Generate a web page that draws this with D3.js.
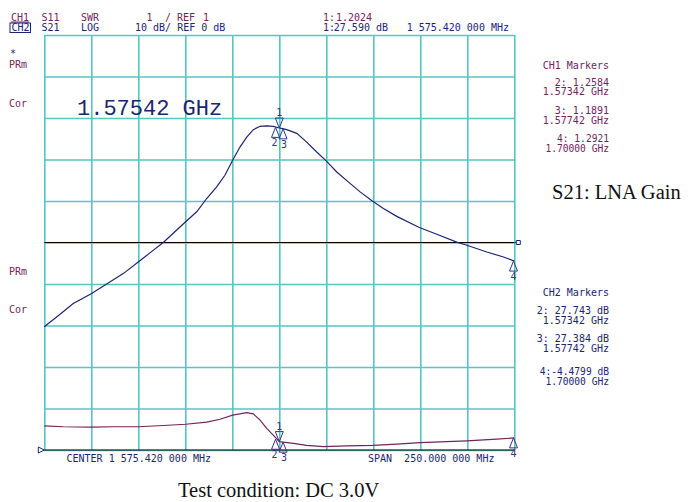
<!DOCTYPE html>
<html><head><meta charset="utf-8">
<script src="https://cdn.jsdelivr.net/npm/d3@7/dist/d3.min.js"></script>
<style>body{margin:0;background:#fff}svg{display:block}</style>
</head><body>
<svg id="c" width="688" height="502"></svg>
<script>
// ---- data ----
const s21Freq = [1450.4,1458.8,1465.8,1475.6,1483.6,1492.4,1500.4,1506.6,1513.7,1525.6,1531.5,1536.8,1542.1,1546.5,1550.6,1554.5,1558.1,1561.6,1565.2,1568.7,1572.2,1575.4,1579.4,1584.7,1590.0,1595.3,1600.1,1606.0,1612.1,1618.4,1624.9,1630.8,1637.9,1649.9,1659.2,1669.8,1675.2,1685.8,1694.7,1700.4];
const s21dB   = [-20.3,-17.3,-14.7,-12.3,-10.0,-7.5,-4.7,-2.5,0.0,5.0,7.4,10.6,13.4,16.2,19.8,23.0,25.4,27.2,28.0,28.1,28.0,27.6,27.2,26.3,24.2,21.8,19.8,17.0,14.6,12.2,10.0,8.2,6.3,3.6,2.0,0.1,-0.65,-2.3,-3.5,-4.48];
const s11Freq = [1450.4,1460.5,1475.6,1487.1,1500.4,1513.7,1525.6,1536.8,1543.9,1550.6,1558.1,1561.6,1565.2,1568.7,1572.2,1575.4,1582.9,1590.0,1598.8,1611.3,1625.1,1637.9,1650.3,1664.5,1675.2,1691.1,1700.4];
const s11SWR  = [1.58,1.56,1.55,1.56,1.56,1.59,1.62,1.67,1.74,1.84,1.90,1.87,1.72,1.52,1.36,1.20,1.16,1.11,1.08,1.10,1.11,1.14,1.18,1.20,1.22,1.26,1.29];
const markerNames = ["1","2","3","4"];
const markerFreq  = [1575.42,1573.42,1577.42,1700.00];
const markerS21   = [27.590,27.743,27.384,-4.4799];
const markerSWR   = [1.2024,1.2584,1.1891,1.2921];
const gridDivs = [0,1,2,3,4,5,6,7,8,9,10];
const ch1MarkerText = ["2: 1.2584","1.57342 GHz","3: 1.1891","1.57742 GHz","4: 1.2921","1.70000 GHz"];
const ch2MarkerText = ["2: 27.743 dB","1.57342 GHz","3: 27.384 dB","1.57742 GHz","4:-4.4799 dB","1.70000 GHz"];

const CH1 = "#74245c", CH2 = "#1c2670", GRID = "#55c6c2", MK2 = "#2a3a90", MK1 = "#3c3080";
const mono = "'DejaVu Sans Mono', monospace";

const svg = d3.select("#c");
const L = 44.3, R = 514.3, T = 35, B = 450;
const center = 1575.42, span = 250;
const x = d3.scaleLinear().domain([center - span/2, center + span/2]).range([L, R]);
const yDB = d3.scaleLinear().domain([-50, 50]).range([B, T]);
const ySWR = d3.scaleLinear().domain([1, 11]).range([B, T]);
const div = d3.scaleLinear().domain([0, 10]).range([L, R]);
const divY = d3.scaleLinear().domain([0, 10]).range([T, B]);

// grid via axes
svg.append("g").attr("transform", `translate(0,${B})`)
  .call(d3.axisBottom(div).tickValues(gridDivs).tickSize(-(B - T)).tickFormat(""))
  .call(g => { g.select(".domain").remove(); g.selectAll("line").attr("stroke", GRID).attr("stroke-width", 1.6); });
svg.append("g").attr("transform", `translate(${L},0)`)
  .call(d3.axisLeft(divY).tickValues(gridDivs).tickSize(-(R - L)).tickFormat(""))
  .call(g => { g.select(".domain").remove(); g.selectAll("line").attr("stroke", GRID).attr("stroke-width", 1.6); });

// reference lines
svg.append("line").attr("x1", L).attr("x2", R).attr("y1", yDB(0)).attr("y2", yDB(0)).attr("stroke", "#000").attr("stroke-width", 1.2);
svg.append("line").attr("x1", L).attr("x2", R).attr("y1", ySWR(1)).attr("y2", ySWR(1)).attr("stroke", "#000").attr("stroke-width", 1.2);
// ref indicators
svg.append("path").attr("d", `M${R},${yDB(0)} h2 v-2 h4 v4 h-4 v-2`).attr("fill", "none").attr("stroke", CH2).attr("stroke-width", 1);
svg.append("path").attr("d", `M${L-6},${ySWR(1)-3} L${L},${ySWR(1)} L${L-6},${ySWR(1)+3} Z`).attr("fill", "#fff").attr("stroke", CH2).attr("stroke-width", 1);

// traces
const lineS21 = d3.line().x((d, i) => x(s21Freq[i])).y(d => yDB(d));
const lineS11 = d3.line().x((d, i) => x(s11Freq[i])).y(d => ySWR(d));
svg.append("path").attr("d", lineS21(s21dB)).attr("fill", "none").attr("stroke", CH2).attr("stroke-width", 1.2);
svg.append("path").attr("d", lineS11(s11SWR)).attr("fill", "none").attr("stroke", CH1).attr("stroke-width", 1.2);

// markers
function drawMarkers(yScale, vals, color) {
  markerNames.forEach((n, i) => {
    const px = x(markerFreq[i]), py = yScale(vals[i]);
    const g = svg.append("g").attr("fill", "none").attr("stroke", color).attr("stroke-width", 1);
    if (n === "1") {
      g.append("path").attr("d", `M${px},${py} L${px-4},${py-10} L${px+4},${py-10} Z`);
      svg.append("text").attr("x", px).attr("y", py - 12).attr("text-anchor", "middle")
        .attr("font-family", mono).attr("font-size", 10).attr("fill", color).text(n);
    } else {
      g.append("path").attr("d", `M${px},${py} L${px-4},${py+10} L${px+4},${py+10} Z`);
      svg.append("text").attr("x", px + (n === "2" ? -1 : n === "3" ? 1 : 0)).attr("y", py + 19).attr("text-anchor", "middle")
        .attr("font-family", mono).attr("font-size", 10).attr("fill", color).text(n);
    }
  });
}
drawMarkers(yDB, markerS21, MK2);
drawMarkers(ySWR, markerSWR, MK1);

// header text
function t(xp, yp, s, color, opts = {}) {
  return svg.append("text").attr("x", xp).attr("y", yp).attr("font-family", opts.font || mono)
    .attr("font-size", opts.size || 10).attr("fill", color).attr("text-anchor", opts.anchor || "start")
    .attr("xml:space", "preserve").style("white-space", "pre").text(s);
}
t(11, 20.5, "CH1", CH1);
svg.append("line").attr("x1", 11).attr("x2", 29).attr("y1", 22).attr("y2", 22).attr("stroke", CH1).attr("stroke-width", 1);
t(41.5, 20.5, "S11", CH1);
t(81, 20.5, "SWR", CH1);
t(146.5, 20.5, "1", CH1);
t(165, 20.5, "/ REF", CH1);
t(203, 20.5, "1", CH1);
t(323, 20.5, "1:", CH1);
t(372, 20.5, "1.2024", CH1, {anchor: "end"});

t(11.5, 31, "CH2", CH2);
svg.append("rect").attr("x", 10).attr("y", 23).attr("width", 20.5).attr("height", 9.5).attr("fill", "none").attr("stroke", CH2).attr("stroke-width", 1);
t(41.5, 31, "S21", CH2);
t(81, 31, "LOG", CH2);
t(135, 31, "10 dB/ REF 0 dB", CH2);
t(323, 31, "1:", CH2);
t(388, 31, "27.590 dB", CH2, {anchor: "end"});
t(509, 31, "1 575.420 000 MHz", CH2, {anchor: "end"});

// left labels
t(10, 57, "*", CH2);
t(9, 67.5, "PRm", CH1);
t(9, 106.5, "Cor", CH1);
t(9, 275, "PRm", CH1);
t(9, 313, "Cor", CH1);

// big frequency label
t(77, 115, "1.57542 GHz", CH2, {font: "'Liberation Mono', monospace", size: 22});

// bottom
t(66.5, 462, "CENTER 1 575.420 000 MHz", CH2);
t(368, 462, "SPAN  250.000 000 MHz", CH2);

// marker tables
t(609, 68.5, "CH1 Markers", CH1, {anchor: "end"});
const ch1Y = [85.5, 95, 113.5, 124, 142, 152];
ch1MarkerText.forEach((s, i) => t(609, ch1Y[i], s, CH1, {anchor: "end", size: i >= 4 ? 9.6 : 10}));
t(609, 296, "CH2 Markers", CH2, {anchor: "end"});
const ch2Y = [313.5, 323.5, 342, 352, 374.5, 384.5];
ch2MarkerText.forEach((s, i) => t(609, ch2Y[i], s, CH2, {anchor: "end", size: i >= 4 ? 9.6 : 10}));

// annotations
t(552, 199, "S21: LNA Gain", "#111", {font: "'Liberation Serif', 'Times New Roman', serif", size: 20.5});
t(178, 497, "Test condition: DC 3.0V", "#111", {font: "'Liberation Serif', 'Times New Roman', serif", size: 20.5});
</script>
</body></html>
